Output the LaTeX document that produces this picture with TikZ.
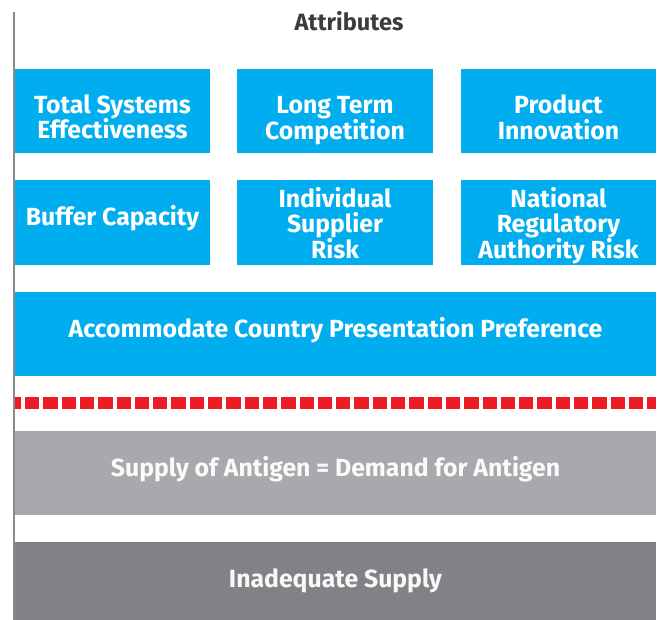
\documentclass[tikz,border=0pt]{standalone}
\usepackage{fontspec}
\setmainfont{Fira Sans}
\definecolor{boxblue}{HTML}{00AEEF}
\definecolor{lightgray}{HTML}{A7A9AC}
\definecolor{darkgray}{HTML}{808285}
\definecolor{dashred}{HTML}{ED1C24}
\definecolor{titlegray}{HTML}{3C3C3C}
\definecolor{axisgray}{HTML}{8A8A8A}
\newcommand\tstrut{\rule[-8pt]{0pt}{28pt}}
\begin{document}
\begin{tikzpicture}[x=1pt,y=-1pt,
  attr/.style={draw=none, inner sep=0pt, align=center, text=white,
    font=\fontsize{24.8}{25.5}\selectfont\bfseries,
    execute at begin node={\lineskiplimit=-100pt\relax}},
  tile/.style={fill=boxblue},
  supply/.style={fill=lightgray},
  short/.style={fill=darkgray}]
\useasboundingbox (0,0) rectangle (659,620);
% left axis
\draw[axisgray, line width=1.5pt] (14,12) -- (14,620);
% title
\node[font=\fontsize{23.6}{25}\selectfont\bfseries, text=titlegray, anchor=base, inner sep=0pt] (title) at (349,31) {Attributes};
% boxes
\fill[tile] (15,69) rectangle (210,153);
\fill[tile] (237,69) rectangle (433,153);
\fill[tile] (461,69) rectangle (656,153);
\fill[tile] (15,180) rectangle (210,265);
\fill[tile] (237,180) rectangle (433,265);
\fill[tile] (461,180) rectangle (656,265);
\fill[tile] (15,292) rectangle (656,376);
\fill[supply] (15,431) rectangle (656,515);
\fill[short] (15,542) rectangle (656,620);
% texts
\node[attr] (tse) at (112.5,120.2) {\tstrut Total Systems\\\tstrut Effectiveness};
\node[attr] (ltc) at (335,120.7) {\tstrut Long Term\\\tstrut Competition};
\node[attr] (pi) at (558.5,120.7) {\tstrut Product\\\tstrut Innovation};
\node[attr] (bc) at (112.5,219) {\tstrut Buffer Capacity};
\node[attr] (isr) at (335,226.5) {\tstrut Individual\\\tstrut Supplier\\\tstrut Risk};
\node[attr] (nrar) at (558.5,226.5) {\tstrut National\\\tstrut Regulatory\\\tstrut Authority Risk};
\node[attr] (accp) at (335.5,331) {\tstrut Accommodate Country Presentation Preference};
\node[attr, text=white!94!lightgray] (sad) at (335.5,470) {\tstrut Supply of Antigen = Demand for Antigen};
\node[attr, text=white!94!darkgray] (ins) at (335.5,581) {\tstrut Inadequate Supply};
% red dashed separator
\coordinate (dl) at (15,403);
\coordinate (dr) at (656,403);
\draw[dashred, line width=11.5pt, dash pattern=on 14.3pt off 4pt, dash phase=8.3pt] (dl) -- (dr);
\end{tikzpicture}
\end{document}
